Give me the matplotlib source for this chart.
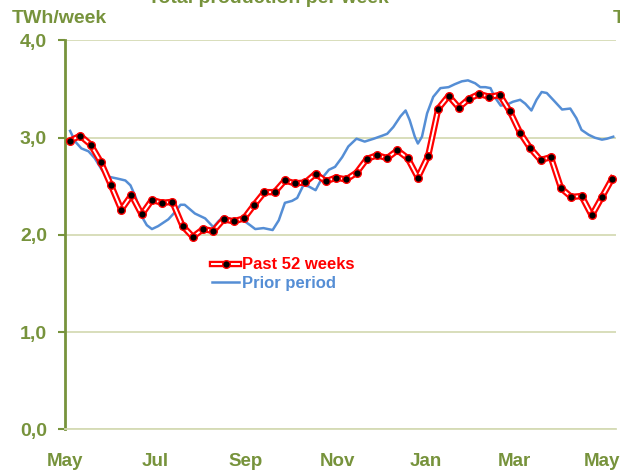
import matplotlib
matplotlib.use("Agg")
import matplotlib.pyplot as plt
from matplotlib.lines import Line2D
from matplotlib.legend_handler import HandlerTuple

plt.rcParams['font.family'] = ['Liberation Sans', 'DejaVu Sans']

# ---- data ----
past_values = [2.97, 3.02, 2.93, 2.75, 2.51, 2.26, 2.41, 2.21, 2.36, 2.33, 2.34,
               2.09, 1.98, 2.06, 2.04, 2.16, 2.14, 2.17, 2.31, 2.44, 2.44, 2.56,
               2.53, 2.54, 2.63, 2.55, 2.59, 2.57, 2.64, 2.78, 2.82, 2.79, 2.87,
               2.79, 2.59, 2.81, 3.30, 3.43, 3.31, 3.40, 3.45, 3.42, 3.44, 3.27,
               3.05, 2.89, 2.77, 2.80, 2.48, 2.39, 2.40, 2.20, 2.39, 2.58]
past_weeks = list(range(len(past_values)))

prior_weeks = [0.0, 0.5, 1.1, 1.8, 2.4, 3.1, 3.7, 4.6, 5.4, 5.9, 6.4, 7.0, 7.5,
               8.0, 8.6, 9.6, 10.3, 10.8, 11.2, 12.2, 13.2, 14.0, 14.5, 15.0,
               15.8, 16.8, 17.6, 18.1, 18.9, 19.8, 20.4, 21.0, 21.7, 22.2, 22.8,
               23.3, 24.0, 24.6, 25.3, 25.9, 26.6, 27.2, 28.0, 28.8, 29.7, 30.5,
               31.0, 31.6, 32.3, 32.8, 33.2, 33.7, 34.0, 34.4, 34.9, 35.5, 36.2,
               37.0, 37.6, 38.3, 38.9, 39.6, 40.1, 40.6, 41.1, 41.5, 42.1, 42.7,
               43.3, 44.0, 44.5, 45.1, 45.6, 46.1, 46.6, 47.4, 48.1, 48.9, 49.5,
               50.0, 50.7, 51.3, 52.0, 52.5, 53.1]
prior_values = [3.07, 2.96, 2.89, 2.86, 2.79, 2.67, 2.60, 2.58, 2.56, 2.51, 2.39,
                2.19, 2.10, 2.06, 2.09, 2.16, 2.24, 2.31, 2.31, 2.22, 2.17, 2.08,
                2.14, 2.19, 2.16, 2.16, 2.10, 2.06, 2.07, 2.05, 2.15, 2.33, 2.35,
                2.38, 2.51, 2.50, 2.46, 2.58, 2.67, 2.70, 2.80, 2.91, 2.99, 2.96,
                2.99, 3.02, 3.04, 3.11, 3.22, 3.28, 3.18, 3.01, 2.94, 3.01, 3.25,
                3.42, 3.51, 3.52, 3.55, 3.58, 3.59, 3.56, 3.52, 3.52, 3.51, 3.42,
                3.33, 3.34, 3.37, 3.39, 3.35, 3.28, 3.39, 3.47, 3.46, 3.37, 3.29,
                3.30, 3.20, 3.08, 3.03, 3.00, 2.98, 2.99, 3.01]

month_labels = ["May", "Jul", "Sep", "Nov", "Jan", "Mar", "May"]
month_pos = [-0.5, 8.3, 17.2, 26.1, 34.8, 43.4, 52.0]
y_ticks = [0, 1, 2, 3, 4]
y_labels = ["0,0", "1,0", "2,0", "3,0", "4,0"]

# ---- style ----
olive = "#77933C"
grid_c = "#D5DBB5"
red = "#FF0000"
blue = "#558ED5"

fig = plt.figure(figsize=(6.2, 4.7), dpi=100)
ax = fig.add_axes([65 / 620, 1 - 429.3 / 470, 551 / 620, (429.3 - 40.5) / 470])

ax.plot(prior_weeks, prior_values, color=blue, lw=1.8, zorder=2,
        solid_joinstyle='round')
ax.plot(past_weeks, past_values, color=red, lw=4.6, zorder=3,
        solid_joinstyle='round')
ax.plot(past_weeks, past_values, color="white", lw=1.4, zorder=4,
        solid_joinstyle='round')
ax.plot(past_weeks, past_values, ls='none', marker='o', ms=5.5,
        mfc='black', mec=red, mew=1.0, zorder=5)

ax.set_xlim(-0.49, 53.37)
ax.set_ylim(0, 4)
ax.set_yticks(y_ticks)
ax.set_yticklabels(y_labels)
ax.set_xticks(month_pos)
ax.set_xticklabels(month_labels)
ax.tick_params(axis='x', length=0, pad=17, labelsize=13.5, labelcolor=olive)
ax.tick_params(axis='y', length=5, width=1.5, color=olive, pad=8,
               labelsize=14, labelcolor=olive)
for lab in ax.get_xticklabels() + ax.get_yticklabels():
    lab.set_fontweight('bold')

ax.grid(axis='y', color=grid_c, lw=1.3)
ax.set_axisbelow(True)
for s in ['top', 'right']:
    ax.spines[s].set_visible(False)
ax.spines['left'].set_color(olive)
ax.spines['left'].set_linewidth(2)
ax.spines['bottom'].set_color(grid_c)
ax.spines['bottom'].set_linewidth(1.3)

# legend
h_red = (Line2D([], [], color=red, lw=4.6),
         Line2D([], [], color='white', lw=1.4),
         Line2D([], [], ls='none', marker='o', ms=5.5, mfc='black', mec=red))
h_blue = Line2D([], [], color=blue, lw=1.8)
leg = ax.legend([h_red, h_blue], ["Past 52 weeks", "Prior period"],
                handler_map={tuple: HandlerTuple(ndivide=1, pad=0)},
                loc='upper left', bbox_to_anchor=(204 / 620, 1 - 249 / 470),
                bbox_transform=fig.transFigure, frameon=False,
                prop={'weight': 'bold', 'size': 12}, handlelength=1.6,
                handletextpad=0.15, labelspacing=0.2, borderpad=0)
for t, c in zip(leg.get_texts(), [red, blue]):
    t.set_color(c)

fig.text(12 / 620, 1 - 18.5 / 470, "TWh/week", color=olive, fontsize=14,
         fontweight='bold', ha='left', va='center')
fig.text(613 / 620, 1 - 18.5 / 470, "TWh/week", color=olive, fontsize=14,
         fontweight='bold', ha='left', va='center')
fig.text(268 / 620, 1 - 3 / 470, "Total production per week", color=olive,
         fontsize=14, fontweight='bold', ha='center', va='baseline')

fig.savefig("out.png", dpi=100)
